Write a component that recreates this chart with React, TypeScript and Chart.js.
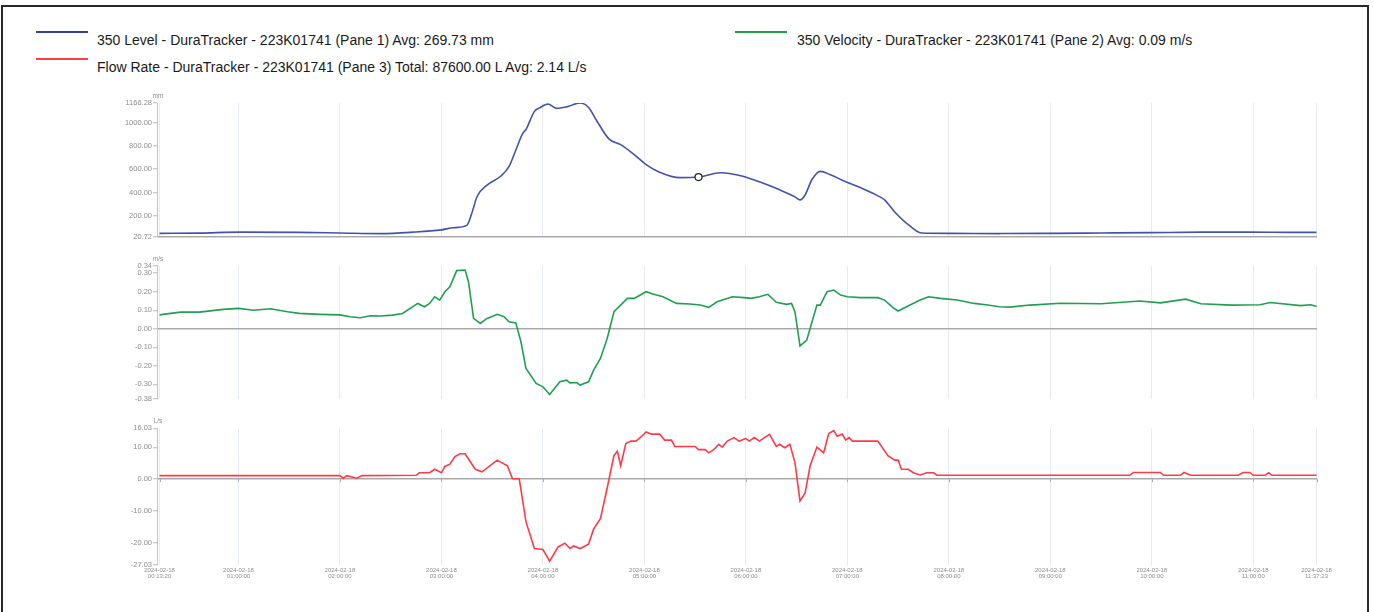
import React, { useEffect, useRef } from "react";
import { Chart, registerables } from "chart.js";

Chart.register(...registerables);

const FONT = '"Liberation Sans", Arial, Helvetica, sans-serif';
const DATE_LABEL = "2024-02-18";

// x-axis tick times (first sample, full hours, last sample)
const xTickTimes = [
  "00:13:20", "01:00:00", "02:00:00", "03:00:00", "04:00:00", "05:00:00",
  "06:00:00", "07:00:00", "08:00:00", "09:00:00", "10:00:00", "11:00:00", "11:37:23",
];

// ---- Pane 1: Level (mm) ----
const levelTimes = [
  "00:13:20", "00:37", "01:01", "01:36", "02:00", "02:24", "02:43", "03:00", "03:07", "03:15",
  "03:18", "03:21", "03:27", "03:35", "03:40", "03:44", "03:48", "03:50", "03:55", "03:58",
  "04:03", "04:08", "04:14", "04:22", "04:27", "04:32", "04:39", "04:46", "04:54", "05:01",
  "05:09", "05:21", "05:32", "05:45", "05:57", "06:08", "06:20", "06:29", "06:32", "06:35",
  "06:39", "06:44", "06:50", "06:59", "07:08", "07:17", "07:22", "07:28", "07:37", "07:44",
  "08:01", "08:30", "09:00", "09:30", "09:59", "10:29", "10:58", "11:22", "11:37:23",
];
const levelValues = [
  52, 54, 62, 60, 55, 50, 62, 82, 100, 120,
  225, 365, 465, 540, 625, 765, 905, 940, 1095, 1125,
  1158, 1120, 1133, 1166, 1128, 1010, 860, 810, 725, 640,
  575, 528, 533, 570, 545, 493, 424, 364, 338, 380,
  510, 582, 553, 493, 441, 381, 338, 235, 115, 55,
  52, 50, 52, 55, 58, 62, 62, 60, 60,
];
const levelMarkerTime = "05:32";
const levelTicks = [20.72, 200, 400, 600, 800, 1000, 1166.28];

// ---- Pane 2: Velocity (m/s) ----
const velocityTimes = [
  "00:13:20", "00:25:30", "00:37", "00:51", "01:00", "01:09", "01:19", "01:29", "01:36", "01:48",
  "02:00", "02:06", "02:12", "02:18", "02:24", "02:31", "02:37", "02:46", "02:50", "02:53",
  "02:56", "02:59", "03:02", "03:05", "03:09", "03:14", "03:16", "03:19", "03:23", "03:27",
  "03:33", "03:37", "03:40", "03:44", "03:47", "03:50", "03:56", "04:00", "04:04", "04:10",
  "04:14", "04:16", "04:20", "04:22", "04:27", "04:30", "04:34", "04:38", "04:42", "04:50",
  "04:54", "05:01", "05:05", "05:11", "05:19", "05:27", "05:33", "05:38", "05:43", "05:52",
  "05:59", "06:03", "06:08", "06:13", "06:18", "06:24", "06:27", "06:29", "06:32", "06:36",
  "06:42", "06:44", "06:48", "06:52", "06:56", "07:00", "07:08", "07:18", "07:22", "07:27",
  "07:30", "07:35", "07:43", "07:48", "07:55", "08:05", "08:15", "08:23", "08:30", "08:36",
  "08:48", "09:06", "09:30", "09:53", "10:05", "10:20", "10:29", "10:47", "11:04", "11:10",
  "11:28", "11:34", "11:37:23",
];
const velocityValues = [
  0.075, 0.09, 0.09, 0.105, 0.11, 0.10, 0.108, 0.092, 0.083, 0.078,
  0.075, 0.065, 0.06, 0.07, 0.069, 0.074, 0.083, 0.137, 0.119, 0.137,
  0.173, 0.155, 0.20, 0.227, 0.314, 0.317, 0.254, 0.056, 0.029, 0.056,
  0.078, 0.065, 0.038, 0.032, -0.07, -0.214, -0.295, -0.313, -0.355, -0.286,
  -0.277, -0.292, -0.29, -0.304, -0.286, -0.223, -0.16, -0.052, 0.092, 0.164,
  0.164, 0.20, 0.188, 0.173, 0.137, 0.134, 0.128, 0.116, 0.146, 0.173,
  0.168, 0.164, 0.173, 0.186, 0.143, 0.132, 0.137, 0.092, -0.092, -0.061,
  0.128, 0.128, 0.20, 0.209, 0.182, 0.173, 0.168, 0.168, 0.155, 0.114,
  0.096, 0.119, 0.155, 0.173, 0.164, 0.155, 0.137, 0.128, 0.119, 0.117,
  0.128, 0.138, 0.135, 0.15, 0.14, 0.16, 0.135, 0.128, 0.13, 0.142,
  0.125, 0.13, 0.12,
];
const velocityTicks = [-0.38, -0.3, -0.2, -0.1, 0, 0.1, 0.2, 0.3, 0.34];

// ---- Pane 3: Flow rate (L/s) ----
const flowTimes = [
  "00:13:20", "02:00", "02:02", "02:04", "02:10", "02:13", "02:45", "02:47", "02:53", "02:56",
  "03:00", "03:02", "03:05", "03:08", "03:11", "03:14", "03:20", "03:24", "03:33", "03:39",
  "03:42", "03:46", "03:50", "03:55", "04:00", "04:04", "04:09", "04:13", "04:16", "04:18",
  "04:22", "04:27", "04:30", "04:34", "04:38", "04:42", "04:44", "04:46", "04:49", "04:52",
  "04:55", "04:58", "05:01", "05:04", "05:09", "05:12", "05:16", "05:18", "05:30", "05:32",
  "05:36", "05:38", "05:41", "05:44", "05:46", "05:49", "05:53", "05:56", "06:00", "06:02",
  "06:05", "06:08", "06:11", "06:14", "06:18", "06:20", "06:23", "06:26", "06:29", "06:32",
  "06:35", "06:38", "06:42", "06:46", "06:49", "06:52", "06:54", "06:57", "06:59", "07:01",
  "07:03", "07:18", "07:24", "07:28", "07:30", "07:32", "07:36", "07:39", "07:43", "07:47",
  "07:51", "07:53", "09:47", "09:49", "10:05", "10:07", "10:17", "10:19", "10:23", "10:51",
  "10:54", "10:58", "11:00", "11:07", "11:09", "11:11", "11:37:23",
];
const flowValues = [
  1.1, 1.1, 0.2, 1.1, 0.3, 1.1, 1.2, 2.0, 2.0, 3.1,
  2.0, 4.0, 4.7, 7.1, 8.0, 8.0, 3.1, 2.3, 6.0, 4.2,
  0.1, 0.1, -13.5, -21.9, -22.2, -25.9, -21.4, -20.2, -21.9, -21.1,
  -21.9, -20.5, -15.7, -12.5, -2.8, 7.4, 8.8, 4.2, 11.2, 12.0,
  12.0, 13.3, 14.9, 14.2, 14.2, 12.3, 12.3, 10.3, 10.3, 9.3,
  9.3, 8.3, 9.3, 11.0, 10.1, 12.0, 13.1, 12.0, 12.8, 12.0,
  13.1, 12.0, 13.1, 14.1, 10.3, 11.0, 9.9, 11.0, 5.3, -6.9,
  -4.4, 4.2, 10.1, 8.3, 14.4, 15.3, 13.5, 14.2, 12.3, 13.1,
  12.0, 12.0, 7.4, 6.0, 6.0, 3.1, 3.1, 2.0, 1.3, 2.0,
  2.0, 1.2, 1.2, 2.1, 2.1, 1.2, 1.2, 2.1, 1.2, 1.2,
  2.1, 2.1, 1.2, 1.2, 2.0, 1.2, 1.2,
];
const flowTicks = [-27.03, -20, -10, 0, 10, 16.03];

const legendItems = [
  { text: "350 Level - DuraTracker - 223K01741 (Pane 1) Avg: 269.73 mm", color: "#3443a3", lineX: 36, textX: 97, y: 40 },
  { text: "350 Velocity - DuraTracker - 223K01741 (Pane 2) Avg: 0.09 m/s", color: "#1f9f4c", lineX: 735, textX: 797, y: 40 },
  { text: "Flow Rate - DuraTracker - 223K01741 (Pane 3) Total: 87600.00 L Avg: 2.14 L/s", color: "#ff3b45", lineX: 36, textX: 97, y: 67 },
];

function toSec(t: string): number {
  const p = t.split(":").map(Number);
  return p[0] * 3600 + p[1] * 60 + (p[2] || 0);
}
function fmtTime(sec: number): string {
  const s = Math.round(sec);
  const h = Math.floor(s / 3600);
  const m = Math.floor((s % 3600) / 60);
  const ss = s % 60;
  const pad = (n: number) => String(n).padStart(2, "0");
  return `${pad(h)}:${pad(m)}:${pad(ss)}`;
}

const X_MIN = toSec(xTickTimes[0]) - 90;
const X_MAX = toSec(xTickTimes[xTickTimes.length - 1]) + 17;

const unitPlugin = {
  id: "unitLabel",
  afterDraw(chart: any, _args: any, opts: any) {
    const { ctx, chartArea } = chart;
    ctx.save();
    ctx.font = `6.5px ${FONT}`;
    ctx.fillStyle = "#8c8c8c";
    ctx.textAlign = "center";
    ctx.textBaseline = "middle";
    ctx.fillText(opts.text, chartArea.left + 1, chartArea.top - 7);
    if (opts.marks) {
      const y = chart.scales.y.getPixelForValue(opts.baseline);
      ctx.strokeStyle = "#a9a9a9";
      ctx.lineWidth = 1;
      chart.scales.x.ticks.forEach((t: any) => {
        const x = Math.round(chart.scales.x.getPixelForValue(t.value)) + 0.5;
        ctx.beginPath();
        ctx.moveTo(x, y);
        ctx.lineTo(x, y + 3);
        ctx.stroke();
      });
    }
    ctx.restore();
  },
};

type PaneProps = {
  top: number;
  height: number;
  padTop: number;
  padBottom: number;
  showX: boolean;
  times: string[];
  values: number[];
  color: string;
  yTicks: number[];
  unit: string;
  baseline: number;
  smooth?: boolean;
  marker?: string;
};

function Pane(p: PaneProps) {
  const ref = useRef<HTMLCanvasElement | null>(null);
  useEffect(() => {
    if (!ref.current) return;
    const data = p.times.map((t, i) => ({ x: toSec(t), y: p.values[i] }));
    const markerIdx = p.marker ? p.times.indexOf(p.marker) : -1;
    const chart = new Chart(ref.current, {
      type: "line",
      data: {
        datasets: [
          {
            data,
            borderColor: p.color,
            borderWidth: 1.6,
            pointRadius: (c: any) => (c.dataIndex === markerIdx ? 3.5 : 0),
            pointBorderColor: "#222",
            pointBackgroundColor: "#ffffff",
            pointBorderWidth: 1.2,
            tension: p.smooth ? 0.4 : 0,
            cubicInterpolationMode: p.smooth ? "monotone" : "default",
            fill: false,
          } as any,
        ],
      },
      options: {
        responsive: false,
        animation: false,
        events: [],
        layout: { padding: { left: 0, right: 57, top: p.padTop, bottom: p.padBottom } },
        plugins: {
          legend: { display: false },
          tooltip: { enabled: false },
          unitLabel: { text: p.unit, baseline: p.baseline, marks: p.showX },
        } as any,
        scales: {
          x: {
            type: "linear",
            min: X_MIN,
            max: X_MAX,
            afterBuildTicks: (s: any) => {
              s.ticks = xTickTimes.map((t) => ({ value: toSec(t) }));
            },
            ticks: {
              display: p.showX,
              autoSkip: false,
              maxRotation: 0,
              minRotation: 0,
              color: "#8c8c8c",
              padding: 3,
              font: { size: 6, family: FONT, lineHeight: 0.95 },
              callback: (v: any) => [DATE_LABEL, fmtTime(Number(v))],
            },
            grid: { color: "#e6eaf3", lineWidth: 1, drawTicks: false },
            border: { display: false },
          },
          y: {
            type: "linear",
            min: p.yTicks[0],
            max: p.yTicks[p.yTicks.length - 1],
            afterBuildTicks: (s: any) => {
              s.ticks = p.yTicks.map((v) => ({ value: v }));
            },
            afterFit: (s: any) => {
              s.width = 157;
            },
            ticks: {
              color: "#8c8c8c",
              padding: 1,
              font: { size: 7.5, family: FONT },
              callback: (v: any) => Number(v).toFixed(2),
            },
            grid: {
              color: (c: any) => (c.tick && c.tick.value === p.baseline ? "#a9a9a9" : "rgba(0,0,0,0)"),
              lineWidth: 1.5,
              tickColor: "#b8b8b8",
              tickWidth: 1,
              tickLength: 4,
            },
            border: { display: true, color: "#c4c4c4", width: 1 },
          },
        },
      } as any,
      plugins: [unitPlugin as any],
    });
    return () => chart.destroy();
  }, []);
  return (
    <canvas
      ref={ref}
      width={1374}
      height={p.height}
      style={{ position: "absolute", left: 0, top: p.top, width: 1374, height: p.height }}
    />
  );
}

export default function App() {
  return (
    <div
      style={{
        position: "absolute",
        left: 0,
        top: 0,
        width: 1374,
        height: 612,
        overflow: "hidden",
        background: "#ffffff",
        fontFamily: FONT,
      }}
    >
      <div
        style={{
          position: "absolute",
          left: 1,
          top: 5,
          width: 1368,
          height: 700,
          boxSizing: "border-box",
          border: "2.5px solid #2a2a2a",
        }}
      />
      {legendItems.map((it, i) => (
        <React.Fragment key={i}>
          <div
            style={{
              position: "absolute",
              left: it.lineX,
              top: it.y - 9,
              width: 52,
              height: 2,
              background: it.color,
            }}
          />
          <div
            style={{
              position: "absolute",
              left: it.textX,
              top: it.y - 8,
              height: 16,
              lineHeight: "16px",
              fontSize: 14,
              color: "#1a1a1a",
              whiteSpace: "nowrap",
            }}
          >
            {it.text}
          </div>
        </React.Fragment>
      ))}
      <Pane
        top={85}
        height={160}
        padTop={18}
        padBottom={8}
        showX={false}
        times={levelTimes}
        values={levelValues}
        color="#4552ad"
        yTicks={levelTicks}
        unit="mm"
        baseline={20.72}
        smooth
        marker={levelMarkerTime}
      />
      <Pane
        top={248}
        height={160}
        padTop={17.8}
        padBottom={8.8}
        showX={false}
        times={velocityTimes}
        values={velocityValues}
        color="#1fa050"
        yTicks={velocityTicks}
        unit="m/s"
        baseline={0}
      />
      <Pane
        top={410}
        height={180}
        padTop={18.3}
        padBottom={7.8}
        showX={true}
        times={flowTimes}
        values={flowValues}
        color="#ff3a46"
        yTicks={flowTicks}
        unit="L/s"
        baseline={0}
      />
    </div>
  );
}
